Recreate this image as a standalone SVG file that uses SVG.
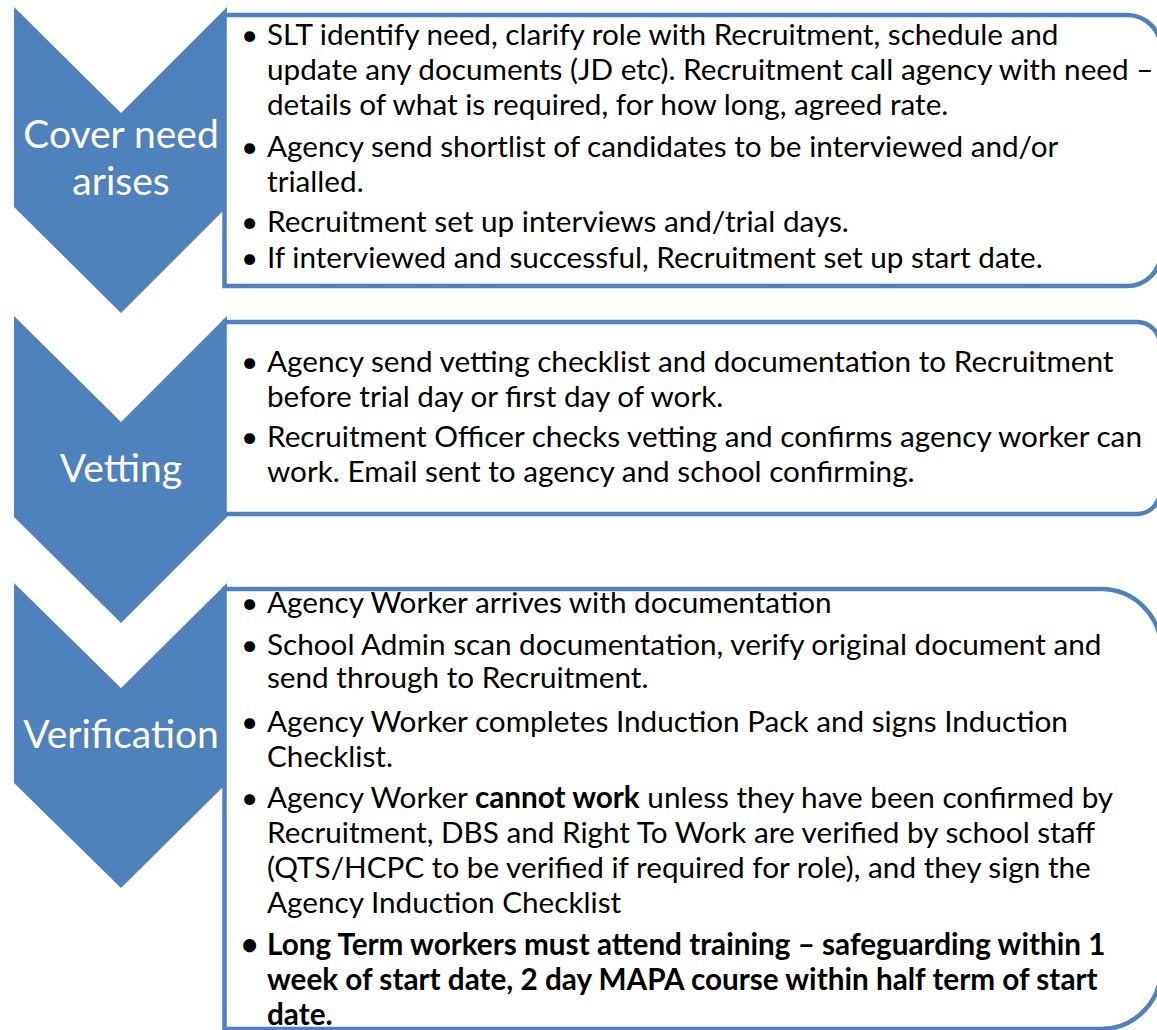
<svg xmlns="http://www.w3.org/2000/svg" width="1157" height="1030" viewBox="0 0 1157 1030">
<style>
.chev{fill:#4F81BD;stroke:none}
.box{fill:#FFFFFF;stroke:#4F81BD;stroke-width:4.5}
.lbl{font-family:Lato,"Open Sans",sans-serif;font-size:39px;fill:#FFFFFF;text-anchor:middle}
.t{font-family:Lato,"Open Sans",sans-serif;font-size:29.7px;fill:#000000}
.b{font-weight:bold}
</style>
<rect width="1157" height="1030" fill="#FFFFFF"/>
<g id="step1">
<polygon class="chev" points="14,7 121,113 227,7 227,207 121,313 14,207"/>
<path class="box" d="M224.5,15 H1127 A34,34 0 0 1 1161,49 V252 A34,34 0 0 1 1127,286 H224.5 Z"/>
<text class="lbl" x="121" y="148">Cover need</text>
<text class="lbl" x="121" y="195">arises</text>
<text class="t" x="241" y="45">•</text>
<text class="t" x="267" y="45">SLT identify need, clarify role with Recruitment, schedule and</text>
<text class="t" x="267" y="80">update any documents (JD etc). Recruitment call agency with need –</text>
<text class="t" x="267" y="115">details of what is required, for how long, agreed rate.</text>
<text class="t" x="241" y="157">•</text>
<text class="t" x="267" y="157">Agency send shortlist of candidates to be interviewed and/or</text>
<text class="t" x="267" y="192">trialled.</text>
<text class="t" x="241" y="232">•</text>
<text class="t" x="267" y="232">Recruitment set up interviews and/trial days.</text>
<text class="t" x="241" y="268">•</text>
<text class="t" x="267" y="268">If interviewed and successful, Recruitment set up start date.</text>
</g>
<g id="step2">
<polygon class="chev" points="14,316 121,422 227,316 227,517 121,623 14,517"/>
<path class="box" d="M224.5,322 H1137 A23,23 0 0 1 1160,345 V491 A23,23 0 0 1 1137,514 H224.5 Z"/>
<text class="lbl" x="121" y="482">Vetting</text>
<text class="t" x="241" y="372">•</text>
<text class="t" x="267" y="372">Agency send vetting checklist and documentation to Recruitment</text>
<text class="t" x="267" y="407">before trial day or first day of work.</text>
<text class="t" x="241" y="447">•</text>
<text class="t" x="267" y="447">Recruitment Officer checks vetting and confirms agency worker can</text>
<text class="t" x="267" y="482">work. Email sent to agency and school confirming.</text>
</g>
<g id="step3">
<polygon class="chev" points="14,583 121,688 227,583 227,783 121,888 14,783"/>
<path class="box" d="M224.5,589 H1101 A60,60 0 0 1 1161,649 V969 A60,60 0 0 1 1101,1029 H224.5 Z"/>
<text class="lbl" x="121" y="748">Verification</text>
<text class="t" x="241" y="613">•</text>
<text class="t" x="267" y="613">Agency Worker arrives with documentation</text>
<text class="t" x="241" y="655">•</text>
<text class="t" x="267" y="655">School Admin scan documentation, verify original document and</text>
<text class="t" x="267" y="688">send through to Recruitment.</text>
<text class="t" x="241" y="732">•</text>
<text class="t" x="267" y="732">Agency Worker completes Induction Pack and signs Induction</text>
<text class="t" x="267" y="767">Checklist.</text>
<text class="t" x="241" y="808">•</text>
<text class="t" x="267" y="808">Agency Worker <tspan class="b">cannot work</tspan> unless they have been confirmed by</text>
<text class="t" x="267" y="843">Recruitment, DBS and Right To Work are verified by school staff</text>
<text class="t" x="267" y="878">(QTS/HCPC to be verified if required for role), and they sign the</text>
<text class="t" x="267" y="913">Agency Induction Checklist</text>
<text class="t b" x="241" y="955">•</text>
<text class="t b" x="267" y="955">Long Term workers must attend training – safeguarding within 1</text>
<text class="t b" x="267" y="990">week of start date, 2 day MAPA course within half term of start</text>
<text class="t b" x="267" y="1025">date.</text>
</g>
<g id="connectors"></g>
</svg>
